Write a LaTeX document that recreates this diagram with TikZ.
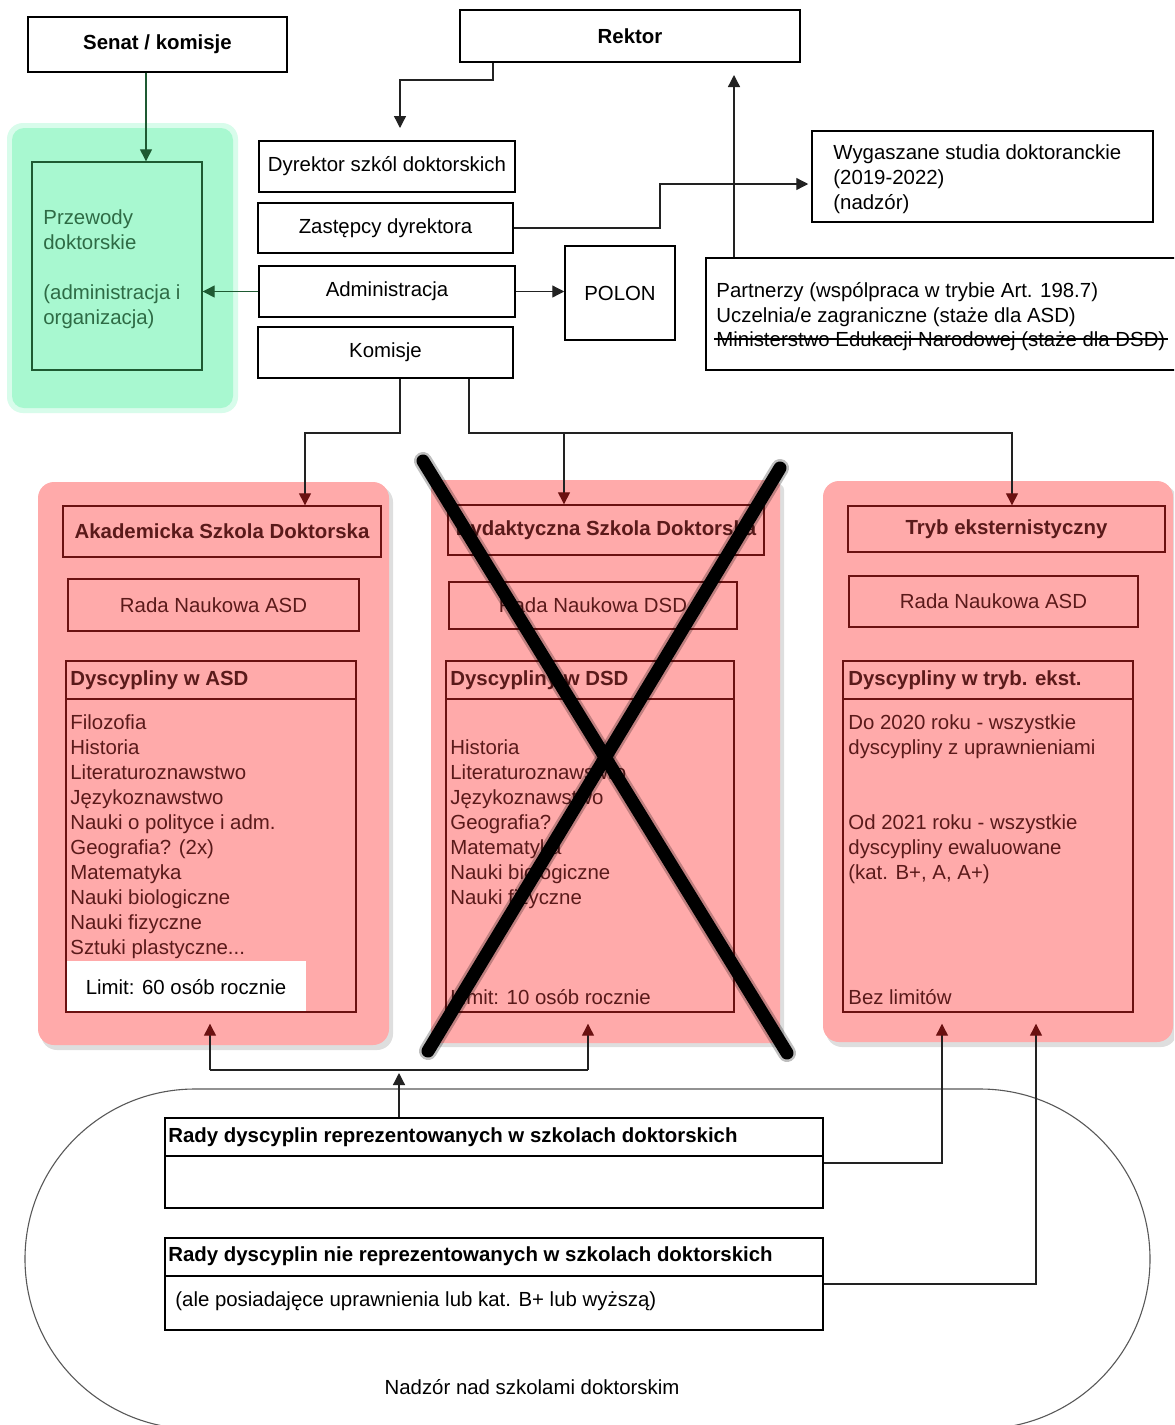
\documentclass[tikz,border=0pt]{standalone}
\usepackage{fontspec}
\setmainfont{Liberation Sans}
\usetikzlibrary{arrows.meta,calc}
\definecolor{pinkf}{HTML}{FFAAAA}
\definecolor{dred}{HTML}{6B1111}
\definecolor{rtext}{HTML}{5A1A1A}
\definecolor{greenf}{HTML}{A8F8D0}
\definecolor{greenglow}{HTML}{D8FCEB}
\definecolor{dgreen}{HTML}{1E5A32}
\definecolor{gtext}{HTML}{2E6B45}
\definecolor{linec}{HTML}{222222}
\begin{document}
\begin{tikzpicture}[x=0.5pt,y=-0.5pt,
  every node/.style={inner sep=0pt},
  txt/.style={font=\fontsize{10.2}{12.5}\selectfont},
  btxt/.style={font=\fontsize{10.2}{12.5}\selectfont\bfseries},
  box/.style={draw=black, line width=0.75pt, fill=white, align=center, txt},
  rbox/.style={draw=dred, line width=0.7pt, text=rtext, align=center, txt},
  conn/.style={draw=linec, line width=0.65pt},
  arr/.style={conn, -{Triangle[length=6pt,width=6pt]}},
  darr/.style={conn, -{Triangle[length=6pt,width=6pt,color=dred]}},
  garr/.style={draw=dgreen, line width=0.65pt, -{Triangle[length=6pt,width=6pt]}},
  shad/.style={fill=black, opacity=0.13},
]
\useasboundingbox (0,0) rectangle (1174,1425);
\clip (0,0) rectangle (1174,1425);
\fill[white] (0,0) rectangle (1174,1425);

% ---------- green block ----------
\fill[greenglow, rounded corners=8pt] (7,123) rectangle (238,413);
\fill[greenf, rounded corners=6pt] (12,128) rectangle (233,408);
\node[draw=dgreen, line width=0.7pt, minimum width=85pt, minimum height=104pt] (prz) at (117,266) {};
\node[txt, anchor=north west, text=gtext, align=left] (prztxt) at (43,209)
  {Przewody\\doktorskie\\[12.5pt](administracja i\\organizacja)};

% ---------- top boxes ----------
\node[box, btxt, minimum width=129.5pt, minimum height=27.5pt] (sen) at (157.5,44.5) {Senat / komisje};
\node[box, btxt, minimum width=170pt, minimum height=26pt] (rek) at (630,36) {Rektor};
\node[box, minimum width=128pt, minimum height=25.5pt] (dyr) at (387,166.5) {Dyrektor szkól doktorskich};
\node[box, minimum width=127.5pt, minimum height=25pt] (zas) at (385.5,228) {Zastępcy dyrektora};
\node[box, minimum width=128pt, minimum height=25.5pt] (adm) at (387,291.5) {Administracja};
\node[box, minimum width=127.5pt, minimum height=25.5pt] (kom) at (385.5,352.5) {Komisje};
\node[box, minimum width=55pt, minimum height=47pt] (pol) at (620,293) {POLON};
\node[box, minimum width=170.5pt, minimum height=45.5pt] (wyg) at (982.5,176.5) {};
\node[txt, anchor=north west, align=left] (wygtxt) at (833,144)
  {Wygaszane studia doktoranckie\\(2019-2022)\\(nadzór)};
\node[box, minimum width=237pt, minimum height=56pt] (par) at (943,314) {};
\node[txt, anchor=north west, align=left] (partxt) at (716,282)
  {Partnerzy (wspólpraca w trybie Art. 198.7)\\Uczelnia/e zagraniczne (staże dla ASD)};
\node[txt, anchor=west] (partx3) at (716,341) {Ministerstwo Edukacji Narodowej (staże dla DSD)};
\draw[black, line width=1pt] ($(partx3.west)+(-2,-2)$) -- ($(partx3.east)+(2,-2)$);

% ---------- top connectors ----------
\coordinate (c1) at (146,0);
\draw[garr] (c1 |- sen.south) -- (c1 |- prz.north);
\draw[garr] (adm.west) -- (adm.west -| prz.east);
\coordinate (r1) at (493,80);
\coordinate (r2) at (400,128);
\draw[arr] (r1 |- rek.south) -- (r1) -| (r2);
\coordinate (z1) at (660,184);
\draw[arr] (zas.east) -| (z1) -- ($(z1 -| wyg.west)+(-3,0)$);
\coordinate (p1) at (734,75);
\draw[arr] (p1 |- par.north) -- (p1);
\draw[arr] (adm.east) -- (adm.east -| pol.west);

% ---------- ASD ----------
\fill[shad, rounded corners=8pt] (41,486) rectangle (393,1050);
\fill[pinkf, rounded corners=8pt] (38,482) rectangle (389,1045);
\node[rbox, btxt, minimum width=159pt, minimum height=25.5pt] (asdh) at (222,531.5) {Akademicka Szkola Doktorska};
\node[rbox, minimum width=145.5pt, minimum height=26pt] (asdr) at (213.5,605) {Rada Naukowa ASD};
\node[rbox, minimum width=145pt, minimum height=175.5pt] (asdd) at (211,836.5) {};
\fill[white] (66.7,961) rectangle (306,1011.3);
\draw[dred, line width=0.7pt] (asdd.west |- 0,699) -- (asdd.east |- 0,699);
\node[btxt, anchor=west, text=rtext] (asddh) at (70,680) {Dyscypliny w ASD};
\node[txt, anchor=north west, align=left, text=rtext] (asdl) at (70,714)
  {Filozofia\\Historia\\Literaturoznawstwo\\Językoznawstwo\\Nauki o polityce i adm.\\Geografia? (2x)\\Matematyka\\Nauki biologiczne\\Nauki fizyczne\\Sztuki plastyczne...};
\node[txt] (asdlim) at (186,987) {Limit: 60 osób rocznie};

% ---------- DSD ----------
\fill[shad, rounded corners=3pt] (433,484) rectangle (784,1047);
\fill[pinkf, rounded corners=3pt] (431,480) rectangle (780,1043);
\node[rbox, btxt, minimum width=158pt, minimum height=25pt] (dsdh) at (606,530) {Dydaktyczna Szkola Doktorska};
\node[rbox, minimum width=144pt, minimum height=23.5pt] (dsdr) at (593,605.5) {Rada Naukowa DSD};
\node[rbox, minimum width=144pt, minimum height=175.5pt] (dsdd) at (590,836.5) {};
\draw[dred, line width=0.7pt] (dsdd.west |- 0,699) -- (dsdd.east |- 0,699);
\node[btxt, anchor=west, text=rtext] (dsddh) at (450,680) {Dyscypliny w DSD};
\node[txt, anchor=north west, align=left, text=rtext] (dsdl) at (450,739)
  {Historia\\Literaturoznawstwo\\Językoznawstwo\\Geografia?\\Matematyka\\Nauki biologiczne\\Nauki fizyczne};
\node[txt, anchor=west, text=rtext] (dsdlim) at (450,997) {Limit: 10 osób rocznie};

% ---------- Tryb ----------
\fill[shad, rounded corners=8pt] (826,485) rectangle (1177,1047);
\fill[pinkf, rounded corners=8pt] (823,481) rectangle (1173,1042);
\node[rbox, btxt, minimum width=158.5pt, minimum height=23pt] (trh) at (1006.5,529) {Tryb eksternistyczny};
\node[rbox, minimum width=144.5pt, minimum height=25.5pt] (trr) at (993.5,601.5) {Rada Naukowa ASD};
\node[rbox, minimum width=145pt, minimum height=175.5pt] (trd) at (988,836.5) {};
\draw[dred, line width=0.7pt] (trd.west |- 0,699) -- (trd.east |- 0,699);
\node[btxt, anchor=west, text=rtext] (trdh) at (848,680) {Dyscypliny w tryb. ekst.};
\node[txt, anchor=north west, align=left, text=rtext] (trl1) at (848,714)
  {Do 2020 roku - wszystkie\\dyscypliny z uprawnieniami};
\node[txt, anchor=north west, align=left, text=rtext] (trl2) at (848,814)
  {Od 2021 roku - wszystkie\\dyscypliny ewaluowane\\(kat. B+, A, A+)};
\node[txt, anchor=west, text=rtext] (trlim) at (848,997) {Bez limitów};

% ---------- Komisje connectors ----------
\coordinate (k1) at (400,433);
\coordinate (k2) at (305,433);
\coordinate (k3) at (469,433);
\coordinate (k4) at (1012,433);
\coordinate (k5) at (564,433);
\draw[darr] (k1 |- kom.south) -- (k1) -- (k2) -- (k2 |- asdh.north);
\draw[darr] (k3 |- kom.south) -- (k3) -- (k4) -- (k4 |- trh.north);
\draw[darr] (k5) -- (k5 |- dsdh.north);

% ---------- X over DSD ----------
\draw[black, opacity=0.25, line width=9pt, line cap=round] (423,461) -- (787,1053);
\draw[black, opacity=0.25, line width=9pt, line cap=round] (780,468) -- (428,1051);
\draw[black, line width=6.5pt, line cap=round] (423,461) -- (787,1053);
\draw[black, line width=6.5pt, line cap=round] (780,468) -- (428,1051);

% ---------- bottom ----------
\draw[black!65, line width=0.55pt] (195,1089) -- (980,1089)
  arc[start angle=-90, end angle=90, radius=170] -- (195,1429)
  arc[start angle=90, end angle=270, radius=170] -- cycle;
\node[box, minimum width=329pt, minimum height=45pt] (rrep) at (494,1163) {};
\draw[line width=0.75pt] (rrep.west |- 0,1156) -- (rrep.east |- 0,1156);
\node[btxt, anchor=west] (rreph) at (168,1137) {Rady dyscyplin reprezentowanych w szkolach doktorskich};
\node[box, minimum width=329pt, minimum height=46pt] (rnie) at (494,1284) {};
\draw[line width=0.75pt] (rnie.west |- 0,1276) -- (rnie.east |- 0,1276);
\node[btxt, anchor=west] (rnieh) at (168,1256) {Rady dyscyplin nie reprezentowanych w szkolach doktorskich};
\node[txt, anchor=west] (rniet) at (175,1301) {(ale posiadajęce uprawnienia lub kat. B+ lub wyższą)};
\node[txt] (nadz) at (532,1387) {Nadzór nad szkolami doktorskim};

\coordinate (b0) at (399,1070);
\coordinate (b1) at (210,1070);
\coordinate (b2) at (588,1070);
\draw[arr] (b0 |- rrep.north) -- ($(b0)+(0,3)$);
\draw[conn] (b1) -- (b2);
\draw[darr, shorten >=5.5pt] (b1) -- (b1 |- asdd.south);
\draw[darr, shorten >=5.5pt] (b2) -- (b2 |- dsdd.south);
\coordinate (t1) at (942,1163);
\coordinate (t2) at (1036,1284);
\draw[darr, shorten >=5.5pt] (rrep.east) -- (t1) -- (t1 |- trd.south);
\draw[darr, shorten >=5.5pt] (rnie.east) -- (t2) -- (t2 |- trd.south);
\end{tikzpicture}
\end{document}
